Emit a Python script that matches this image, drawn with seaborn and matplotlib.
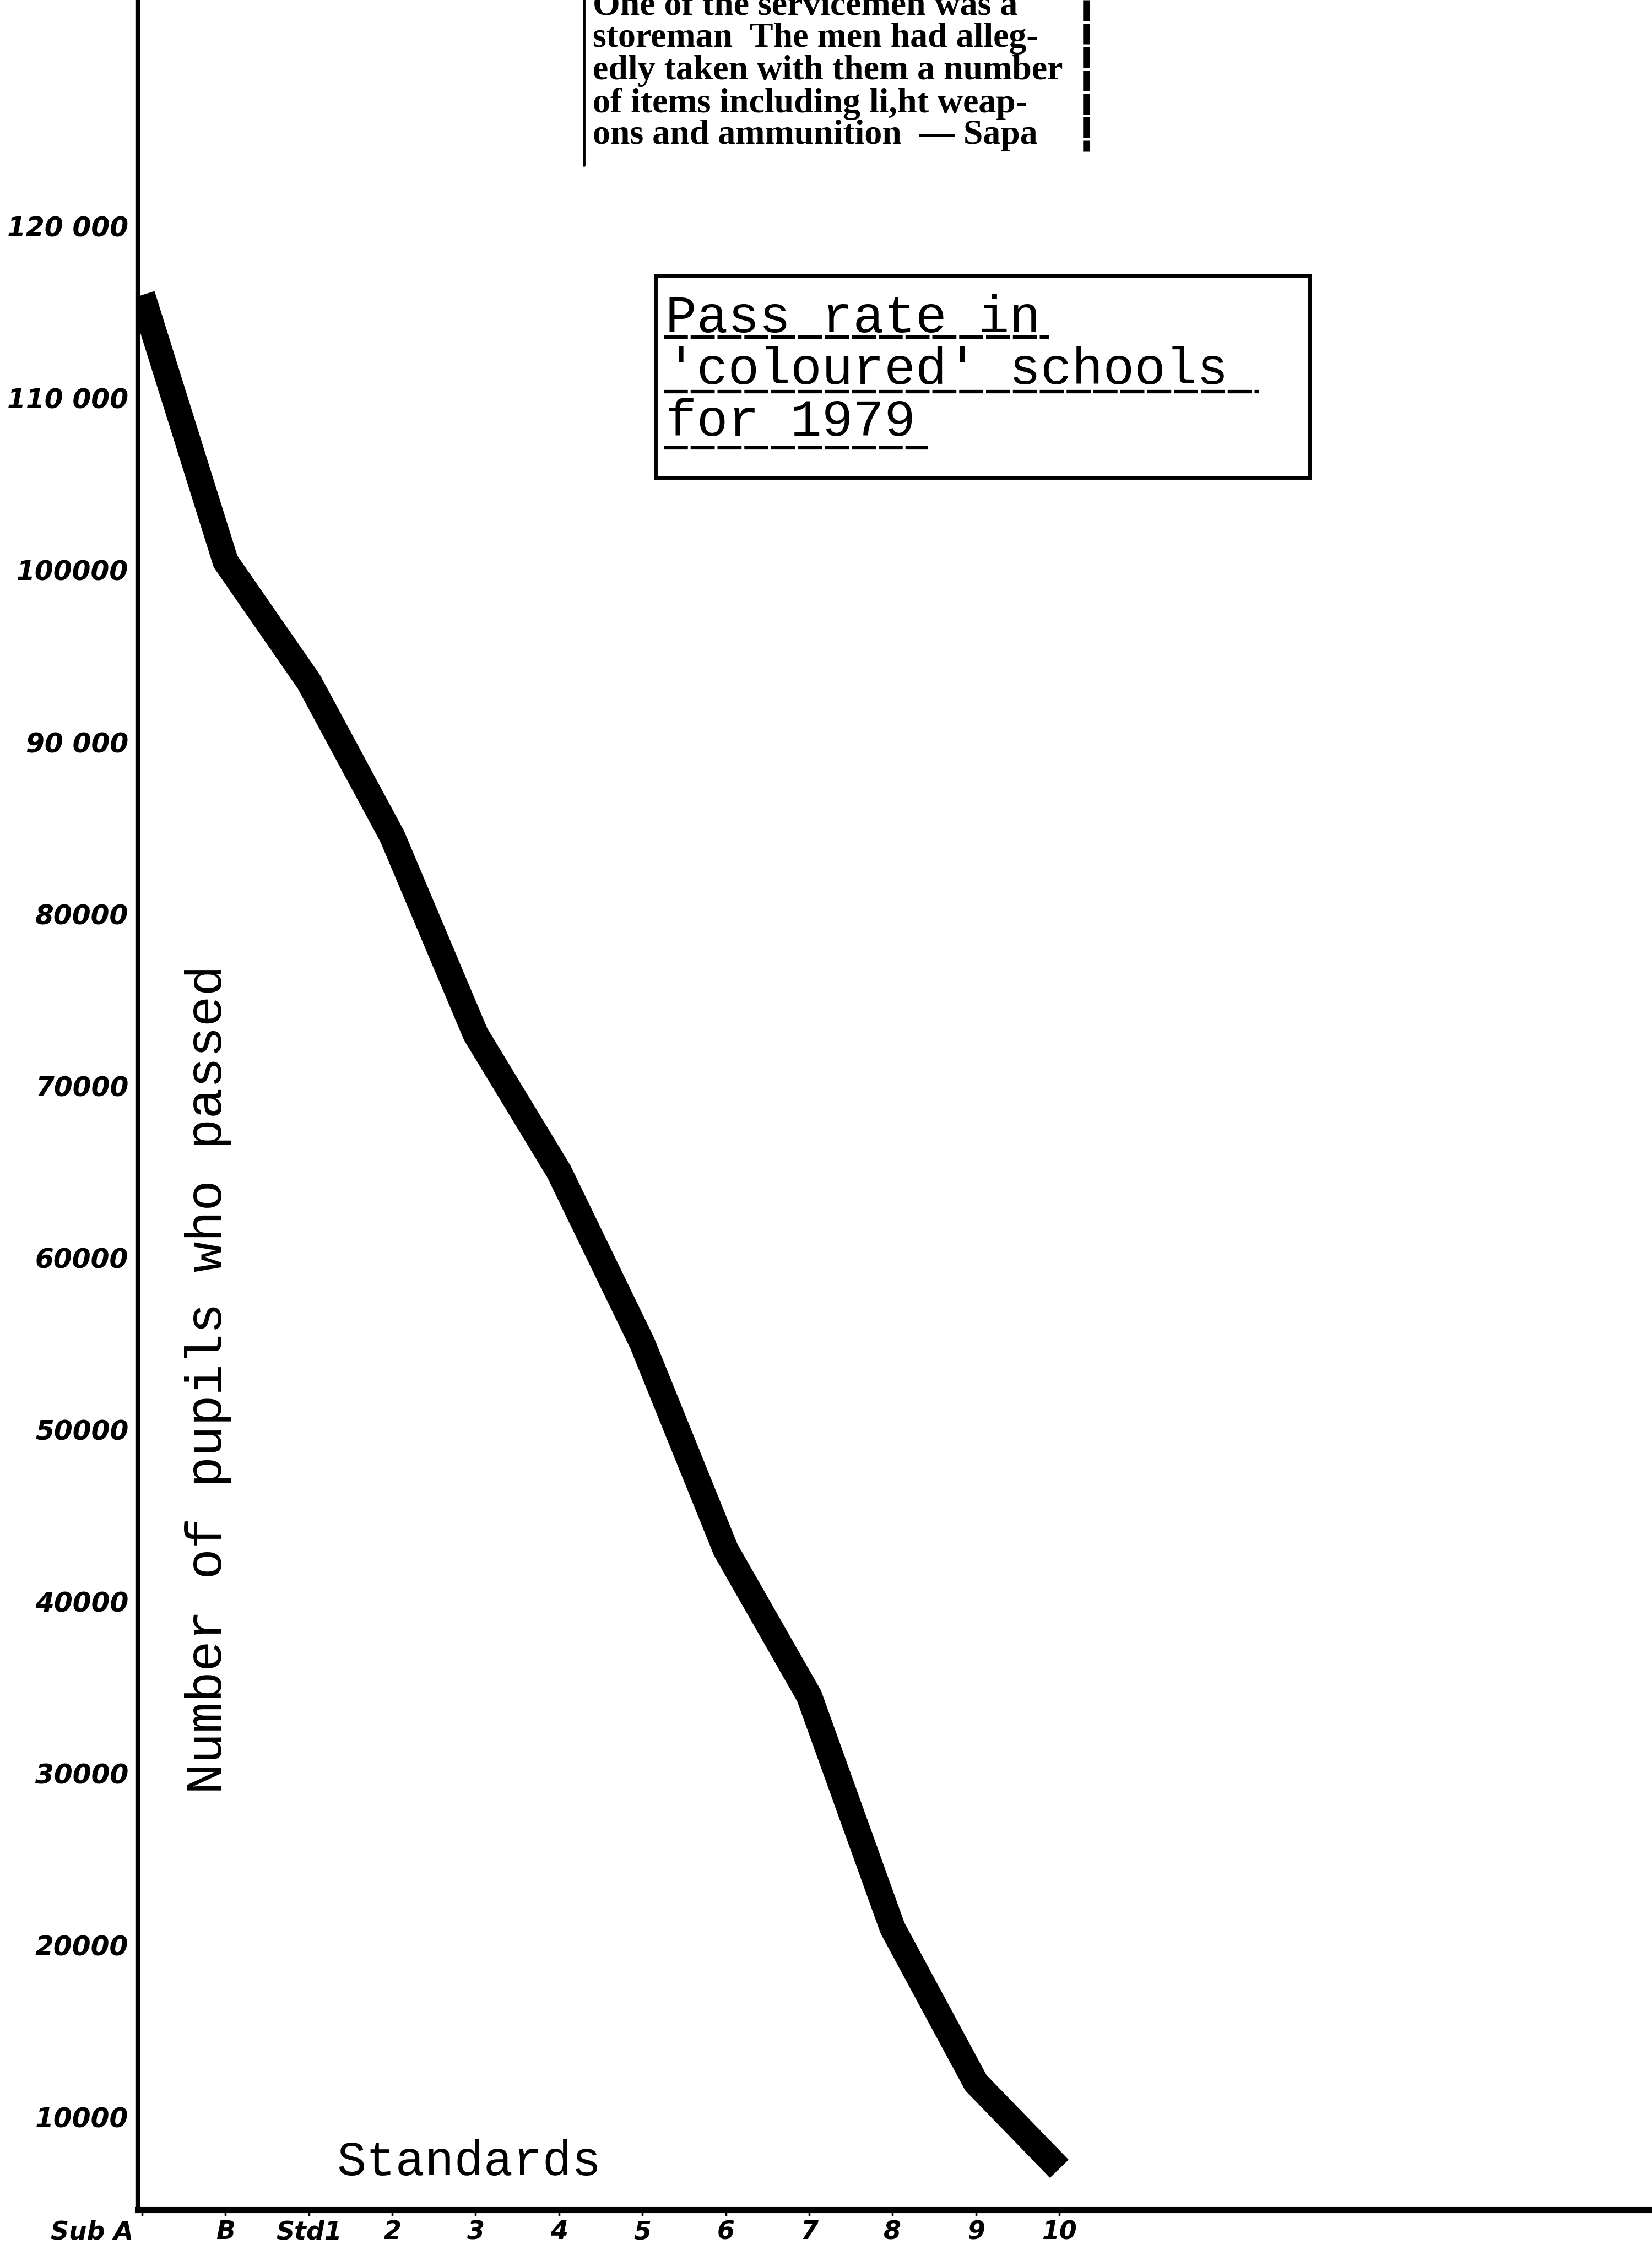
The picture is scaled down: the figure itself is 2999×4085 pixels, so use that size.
import numpy as np
import matplotlib
matplotlib.use("Agg")
import matplotlib.pyplot as plt
from matplotlib.lines import Line2D
from matplotlib.patches import Rectangle
from matplotlib.transforms import ScaledTranslation
import seaborn as sns

# Pass figures per standard, 1979
standards = ["Sub A", "B", "Std1", "2", "3", "4", "5", "6", "7", "8", "9", "10"]
pupils_passed = [116000, 100500, 93500, 84500, 73000, 65000,
                 55000, 43000, 34500, 21000, 12000, 7000]

y_ticks = [120000, 110000, 100000, 90000, 80000, 70000,
           60000, 50000, 40000, 30000, 20000, 10000]
y_tick_labels = ["120 000", "110 000", "100000", "90 000", "80000", "70000",
                 "60000", "50000", "40000", "30000", "20000", "10000"]

title_lines = ["Pass rate in", "'coloured' schools", "for 1979"]
y_title = "Number of pupils who passed"
x_title = "Standards"

clipping_lines = [
    "One of the servicemen was a",
    "storeman  The men had alleg-",
    "edly taken with them a number",
    "of items including li,ht weap-",
    "ons and ammunition  \u2014 Sapa",
]

sns.set_theme(style="white")
plt.rcParams["font.family"] = ["DejaVu Sans"]
plt.rcParams["text.color"] = "black"
plt.rcParams["axes.labelcolor"] = "black"
plt.rcParams["xtick.color"] = "black"
plt.rcParams["ytick.color"] = "black"

W, H = 2999, 4085
fig = plt.figure(figsize=(W / 100, H / 100), dpi=100)
fig.patch.set_facecolor("white")

ax = fig.add_axes([250 / W, (H - 4012) / H, 1 - 250 / W, 4012 / H])
ax.set_facecolor("white")

pos = np.arange(len(standards))
sns.lineplot(x=pos, y=pupils_passed, ax=ax, color="black", linewidth=34,
             solid_capstyle="butt", solid_joinstyle="round")

ax.set_xlim(-0.053, 18.109)
ax.set_ylim(4614, 133160)

sns.despine(ax=ax)
ax.spines["left"].set_linewidth(6)
ax.spines["bottom"].set_linewidth(8)
for s in ("left", "bottom"):
    ax.spines[s].set_color("black")

ax.set_yticks(y_ticks)
ax.set_yticklabels(y_tick_labels, fontsize=35, style="italic", weight="bold",
                   color="black")
ax.tick_params(axis="y", length=0, pad=12)

ax.set_xticks(pos)
ax.set_xticklabels(standards, fontsize=33, style="italic", weight="bold",
                   color="black")
ax.tick_params(axis="x", length=8, width=2.5, pad=5, direction="out",
               color="black", bottom=True)
first = ax.get_xticklabels()[0]
first.set_ha("right")
first.set_transform(first.get_transform()
                    + ScaledTranslation(-0.16, 0, fig.dpi_scale_trans))

# axis titles sit inside the plotting area, typewritten
ax.set_ylabel(y_title, family="Liberation Mono", fontsize=67, va="center",
              rotation=90, color="black")
ax.yaxis.set_label_coords((378 - 250) / (W - 250), (4012 - 2504) / 4012)
ax.set_xlabel(x_title, family="Liberation Mono", fontsize=64, va="center",
              color="black")
ax.xaxis.set_label_coords((852 - 250) / (W - 250), (4012 - 3926) / 4012)

# boxed, typewritten title with broken underlines
fig.add_artist(Rectangle((1190 / W, 1 - 867 / H), (2378 - 1190) / W,
                         (867 - 500) / H, transform=fig.transFigure,
                         fill=False, edgecolor="black", linewidth=5))
line_y = [578, 672, 766]
under_y = [612, 711, 813]
under_x1 = [1905, 2285, 1685]
for txt, ty, uy, ux in zip(title_lines, line_y, under_y, under_x1):
    fig.text(1208 / W, 1 - ty / H, txt, family="Liberation Mono",
             fontsize=68, va="center", ha="left", color="black")
    fig.add_artist(Line2D([1205 / W, ux / W], [1 - uy / H, 1 - uy / H],
                          transform=fig.transFigure, color="black",
                          linewidth=4.5, dashes=(7, 0.8)))

# newspaper column cut at the top of the sheet
clip_y = [12, 70, 129, 188, 246]
for txt, ty in zip(clipping_lines, clip_y):
    fig.text(1076 / W, 1 - ty / H, txt, family="Liberation Serif",
             weight="bold", fontsize=46, va="center", ha="left",
             color="black")
fig.add_artist(Line2D([1060 / W, 1060 / W], [1, 1 - 300 / H],
                      transform=fig.transFigure, color="black",
                      linewidth=3.5))
fig.add_artist(Line2D([1972 / W, 1972 / W], [1, 1 - 275 / H],
                      transform=fig.transFigure, color="black",
                      linewidth=9, dashes=(3, 0.4)))

fig.savefig("out.png", dpi=100, facecolor="white")
